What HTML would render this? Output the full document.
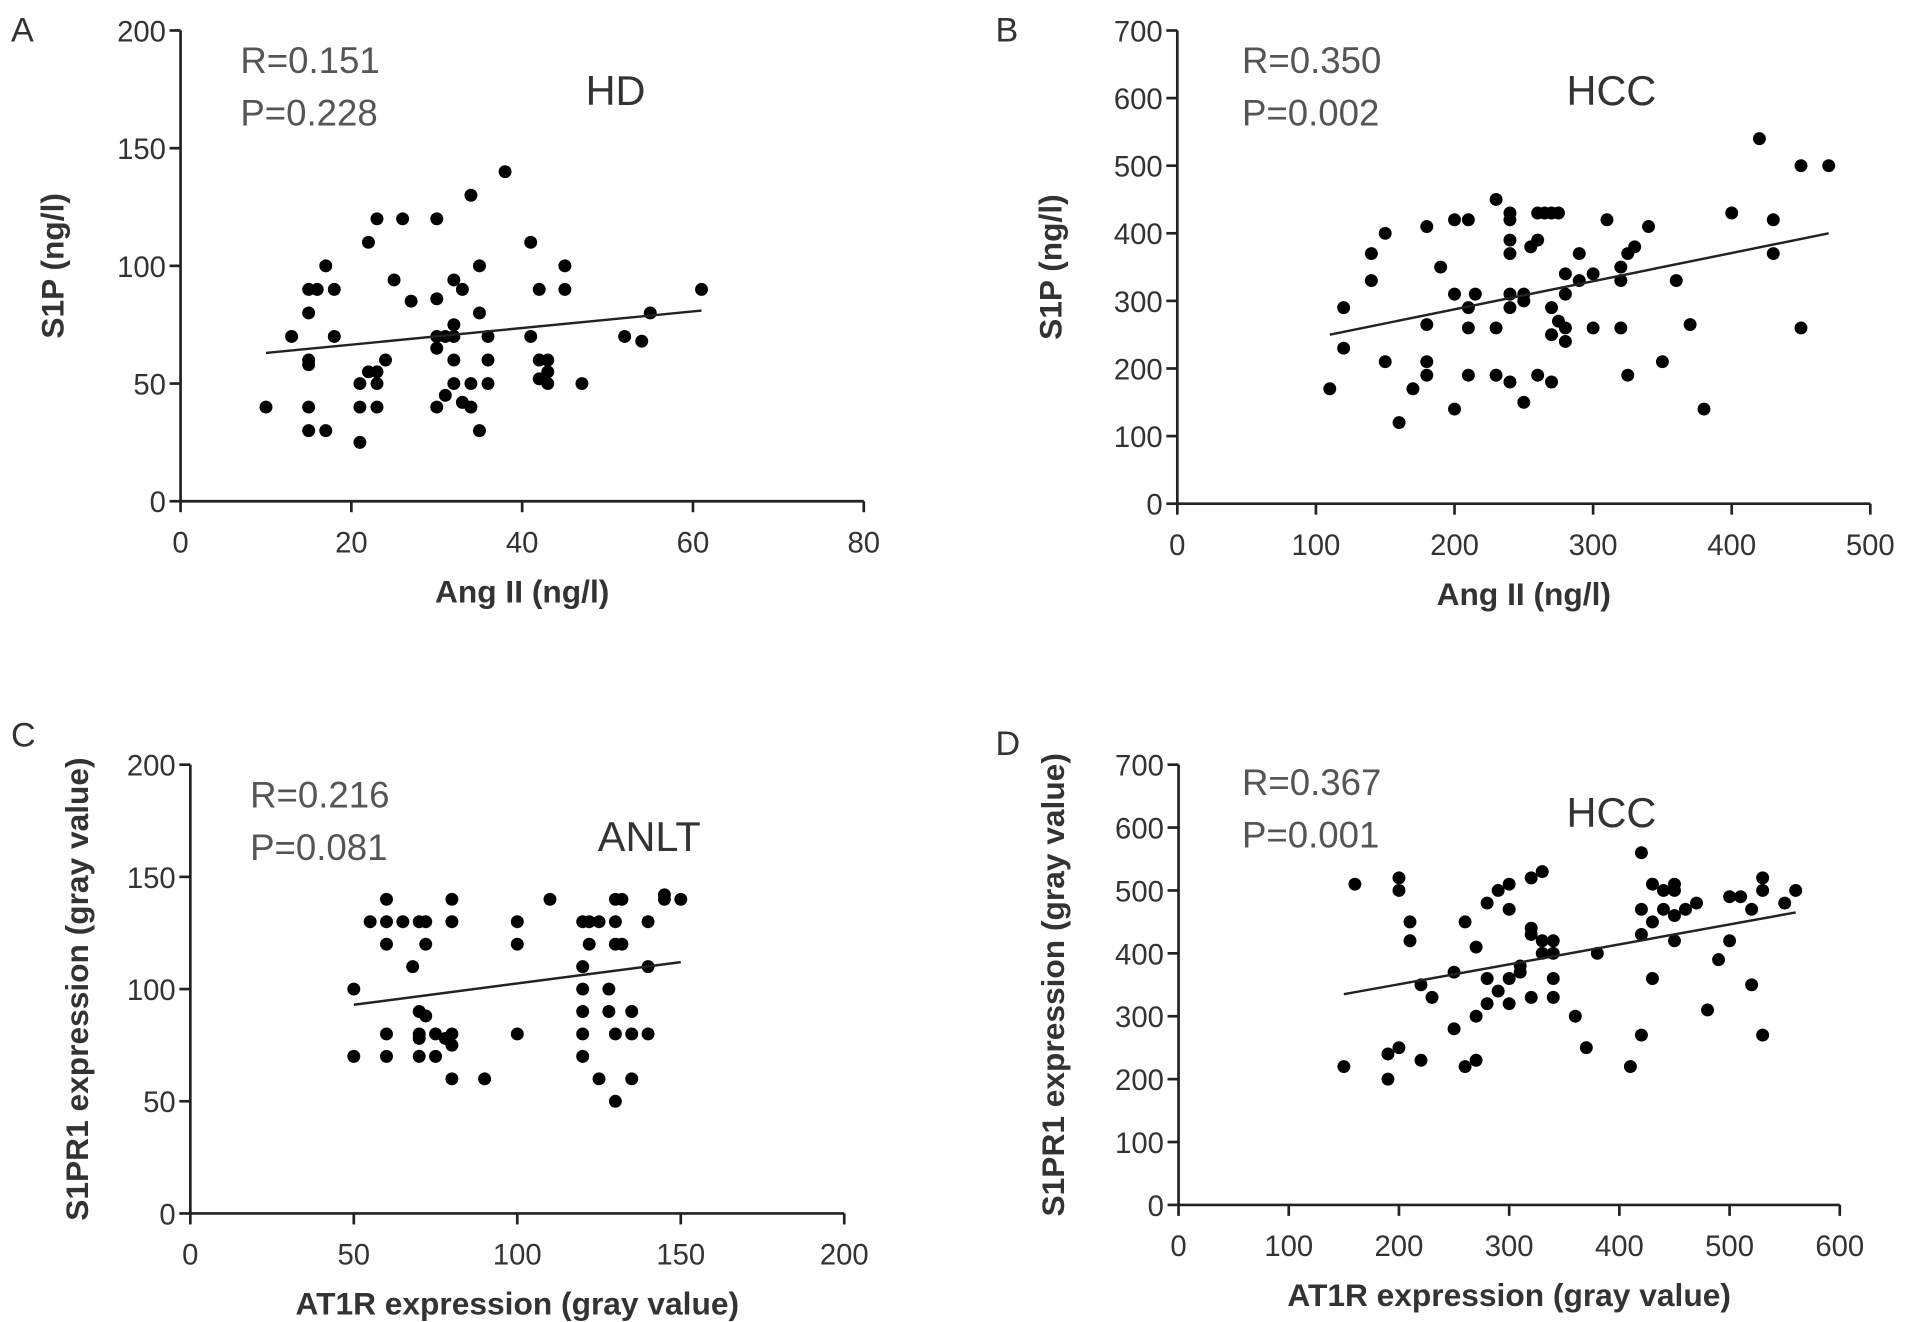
<!DOCTYPE html>
<html><head><meta charset="utf-8"><style>
html,body{margin:0;padding:0;background:#fff;}
svg{display:block;font-family:"Liberation Sans",Arial,sans-serif;}
</style></head><body>
<svg id="fig" width="1913" height="1322" viewBox="0 0 1568 1084" preserveAspectRatio="none" xmlns="http://www.w3.org/2000/svg"></svg>
<script>
// Panel A data (HD)
const aX=[10,13,15,15,15,15,15,15,16,17,17,18,18,21,21,21,22,22,23,23,23,23,24,25,26,27,30,30,30,30,30,31,31,32,32,32,32,32,33,33,34,34,34,35,35,35,36,36,36,38,41,41,42,42,42,43,43,43,45,45,47,52,54,55,61];
const aY=[40,70,90,80,60,58,40,30,90,100,30,90,70,50,40,25,110,55,120,55,50,40,60,94,120,85,120,86,70,65,40,45,70,94,75,70,60,50,90,42,130,50,40,100,80,30,70,60,50,140,110,70,90,60,52,60,55,50,100,90,50,70,68,80,90];
const aLine=[10,63,61,81];
// Panel B data (HCC)
const bX=[110,120,120,140,140,150,150,160,170,180,180,180,180,190,200,200,200,210,210,210,210,215,230,230,230,240,240,240,240,240,240,240,250,250,250,255,260,260,265,260,270,270,270,270,275,275,280,280,280,280,290,290,300,300,310,320,320,320,325,325,330,340,350,360,370,380,400,420,430,430,450,450,470];
const bY=[170,290,230,370,330,400,210,120,170,410,265,210,190,350,420,310,140,420,290,260,190,310,450,260,190,430,420,390,370,310,290,180,310,300,150,380,430,390,430,190,430,290,250,180,430,270,340,310,260,240,370,330,340,260,420,350,330,260,370,190,380,410,210,330,265,140,430,540,420,370,500,260,500];
const bLine=[110,250,470,400];
// Panel C data (ANLT)
const cX=[50,50,55,60,60,60,60,60,65,68,70,70,70,70,70,72,72,72,75,75,78,80,80,80,80,80,90,100,100,100,110,120,120,120,120,120,120,122,122,125,125,128,128,130,130,130,130,130,132,132,135,135,135,140,140,140,145,145,150];
const cY=[100,70,130,140,130,120,80,70,130,110,130,90,80,78,70,130,120,88,80,70,78,140,130,80,75,60,60,130,120,80,140,130,110,100,90,80,70,130,120,60,130,100,90,140,130,120,80,50,140,120,90,80,60,130,110,80,142,140,140];
const cLine=[50,93,150,112];
// Panel D data (HCC)
const dX=[150,160,190,190,200,200,200,210,210,220,220,230,250,250,260,260,270,270,270,280,280,280,290,290,300,300,300,300,310,310,320,320,320,320,330,330,330,340,340,340,340,360,370,380,410,420,420,420,420,430,430,430,440,440,450,450,450,450,460,470,480,490,500,500,510,520,520,530,530,530,550,560];
const dY=[220,510,240,200,520,500,250,450,420,350,230,330,370,280,450,220,410,300,230,480,360,320,500,340,510,470,360,320,370,380,520,440,430,330,530,420,400,420,400,360,330,300,250,400,220,560,470,430,270,510,450,360,500,470,510,500,460,420,470,480,310,390,490,420,490,470,350,520,500,270,480,500];
const dLine=[150,335,560,465];

const xTicksA=[0,20,40,60,80], yTicksA=[0,50,100,150,200];
const xTicksB=[0,100,200,300,400,500], yTicksB=[0,100,200,300,400,500,600,700];
const xTicksC=[0,50,100,150,200], yTicksC=[0,50,100,150,200];
const xTicksD=[0,100,200,300,400,500,600], yTicksD=[0,100,200,300,400,500,600,700];

const NS="http://www.w3.org/2000/svg";
const svg=document.getElementById('fig');
function mk(tag,attrs,parent){const e=document.createElementNS(NS,tag);for(const k in attrs)e.setAttribute(k,attrs[k]);(parent||svg).appendChild(e);return e;}

function panel(p){
  const g=mk('g',{});
  
  
  const xs=v=>p.x0+(v-p.xMin)/(p.xMax-p.xMin)*(p.x1-p.x0);
  const ys=v=>p.y0-(v-p.yMin)/(p.yMax-p.yMin)*(p.y0-p.y1);
  const ax=mk('g',{stroke:'#222','stroke-width':2.2,fill:'none'},g);
  
  
  mk('line',{x1:p.x0,y1:p.y0,x2:p.x1,y2:p.y0},ax);
  mk('line',{x1:p.x0,y1:p.y0,x2:p.x0,y2:p.y1},ax);
  p.xt.forEach(v=>{
    mk('line',{x1:xs(v),y1:p.y0,x2:xs(v),y2:p.y0+9},ax);
    const t=mk('text',{x:xs(v),y:p.y0+42,'text-anchor':'middle','font-size':24,fill:'#333'},g);
    t.textContent=v;
    
    
  });
  p.yt.forEach(v=>{
    mk('line',{x1:p.x0-9,y1:ys(v),x2:p.x0,y2:ys(v)},ax);
    const t=mk('text',{x:p.x0-12,y:ys(v)+9,'text-anchor':'end','font-size':24,fill:'#333'},g);
    t.textContent=v;
    
    
  });
  const xt=mk('text',{x:(p.x0+p.x1)/2,y:p.y0+83,'text-anchor':'middle','font-size':26,'font-weight':'bold',fill:'#333'},g);
  xt.textContent=p.xl;
  
  
  const yc=(p.y0+p.y1)/2, yx=p.yx;
  const yt=mk('text',{x:yx,y:yc,'text-anchor':'middle','font-size':26,'font-weight':'bold',fill:'#333',transform:`rotate(-90 ${yx} ${yc})`},g);
  yt.textContent=p.yl;
  
  
  const L=mk('text',{x:p.lx,y:p.ly,'font-size':28,fill:'#333'},g);
  L.textContent=p.id;
  
  
  const r=mk('text',{x:p.rx,y:p.ry,'font-size':30,fill:'#555'},g);
  r.textContent=p.r;
  
  
  const pv=mk('text',{x:p.rx,y:p.ry+43,'font-size':30,fill:'#555'},g);
  pv.textContent=p.pv;
  
  
  const gl=mk('text',{x:p.gx,y:p.gy,'font-size':34,fill:'#333'},g);
  gl.textContent=p.grp;
  
  
  p.X.forEach((v,i)=>{
    const c=mk('circle',{cx:xs(v),cy:ys(p.Y[i]),r:5.3,fill:'#000'},g);
    
    
  });
  const ln=mk('line',{x1:xs(p.line[0]),y1:ys(p.line[1]),x2:xs(p.line[2]),y2:ys(p.line[3]),stroke:'#222','stroke-width':2},g);
  
  
}

panel({id:'A',x0:148,x1:708,xMin:0,xMax:80,y0:411,y1:25,yMin:0,yMax:200,xt:xTicksA,yt:yTicksA,X:aX,Y:aY,line:aLine,
  xl:'Ang II (ng/l)',yl:'S1P (ng/l)',yx:52,lx:9,ly:34,rx:197,ry:60,r:'R=0.151',pv:'P=0.228',grp:'HD',gx:480,gy:86});
panel({id:'B',x0:965,x1:1533,xMin:0,xMax:500,y0:413,y1:25,yMin:0,yMax:700,xt:xTicksB,yt:yTicksB,X:bX,Y:bY,line:bLine,
  xl:'Ang II (ng/l)',yl:'S1P (ng/l)',yx:870,lx:816,ly:34,rx:1018,ry:60,r:'R=0.350',pv:'P=0.002',grp:'HCC',gx:1284,gy:86});
panel({id:'C',x0:156,x1:692,xMin:0,xMax:200,y0:995,y1:627,yMin:0,yMax:200,xt:xTicksC,yt:yTicksC,X:cX,Y:cY,line:cLine,
  xl:'AT1R expression (gray value)',yl:'S1PR1 expression (gray value)',yx:72,lx:9,ly:612,rx:205,ry:662,r:'R=0.216',pv:'P=0.081',grp:'ANLT',gx:490,gy:698});
panel({id:'D',x0:966,x1:1508,xMin:0,xMax:600,y0:988,y1:627,yMin:0,yMax:700,xt:xTicksD,yt:yTicksD,X:dX,Y:dY,line:dLine,
  xl:'AT1R expression (gray value)',yl:'S1PR1 expression (gray value)',yx:872,lx:816,ly:619,rx:1018,ry:652,r:'R=0.367',pv:'P=0.001',grp:'HCC',gx:1284,gy:678});
</script>
</body></html>
